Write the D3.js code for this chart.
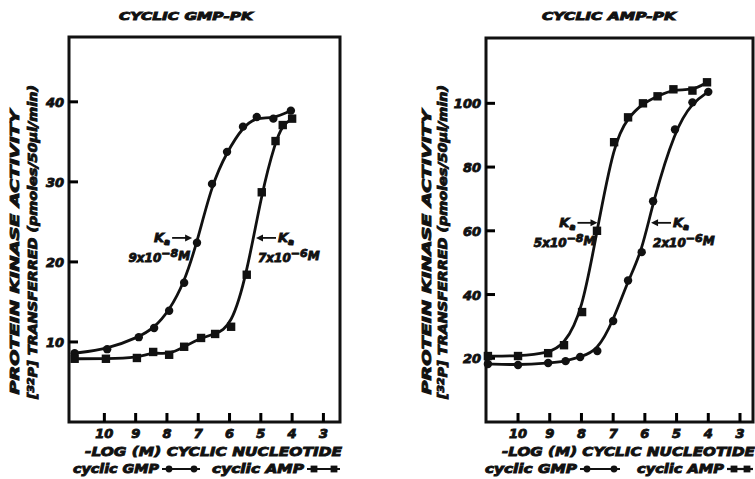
<!DOCTYPE html>
<html>
<head>
<meta charset="utf-8">
<script src="https://cdn.jsdelivr.net/npm/d3@7"></script>
<style>
  body { margin: 0; background: #fff; }
  svg text { font-family: "DejaVu Sans", sans-serif; font-weight: bold; font-style: italic; fill: #111; stroke: #111; stroke-width: 0.9px; }
</style>
</head>
<body>
<svg id="chart" width="755" height="479"></svg>
<script>
// values: x = -log[M] of the cyclic nucleotide, y = activity
const xTicks = [10, 9, 8, 7, 6, 5, 4, 3];
const gpkTicks = [10, 20, 30, 40];
const apkTicks = [20, 40, 60, 80, 100];

// cyclic GMP-PK panel
const gpkGmpX = [10.95, 9.91, 8.9, 8.41, 7.93, 7.45, 7.04, 6.56, 6.08, 5.57, 5.13, 4.6, 4.04];
const gpkGmpY = [8.6, 9.1, 10.6, 11.75, 13.9, 17.4, 22.4, 29.75, 33.75, 36.9, 38.1, 37.9, 38.9];
const gpkAmpX = [10.95, 9.95, 8.96, 8.44, 7.93, 7.45, 6.91, 6.46, 5.95, 5.45, 4.97, 4.53, 4.3, 4.0];
const gpkAmpY = [7.9, 7.9, 8.0, 8.75, 8.4, 9.4, 10.5, 11.0, 11.9, 18.4, 28.7, 35.1, 37.1, 37.9];

// cyclic AMP-PK panel
const apkAmpX = [10.95, 10.0, 9.05, 8.55, 7.98, 7.51, 6.97, 6.53, 6.06, 5.6, 5.1, 4.5, 4.04];
const apkAmpY = [20.7, 20.7, 21.6, 24.1, 34.5, 60.0, 87.8, 95.6, 100, 102.2, 104.4, 104, 106.6];
const apkGmpX = [10.95, 10.0, 9.05, 8.5, 8.04, 7.5, 7.0, 6.53, 6.1, 5.74, 5.05, 4.5, 4.0];
const apkGmpY = [18.2, 17.9, 18.5, 19.1, 20.4, 22.3, 31.7, 44.4, 53.3, 69.3, 91.8, 100.3, 103.6];

const svg = d3.select("#chart");

const panels = [
  {
    title: "CYCLIC GMP-PK", titleX: 186,
    left: 69, right: 340, top: 37, bottom: 422,
    xDomain: [11.13, 2.47], yDomain: [0, 48.1], yTicks: gpkTicks,
    labelX: [13, 32],
    series: [
      { xs: gpkGmpX, ys: gpkGmpY, shape: "circle" },
      { xs: gpkAmpX, ys: gpkAmpY, shape: "square" }
    ],
    ka: [
      { x: 7.1, y: 23, side: "left", exp: "-8", mant: "9x10" },
      { x: 5.25, y: 23, side: "right", exp: "-6", mant: "7x10" }
    ],
    legend: { x: 73, gmpLine: [162, 200], ampText: 212, ampLine: [307, 340] }
  },
  {
    title: "CYCLIC AMP-PK", titleX: 609,
    left: 486, right: 753, top: 38, bottom: 422,
    xDomain: [11.01, 2.59], yDomain: [0, 120.5], yTicks: apkTicks,
    labelX: [425, 442],
    series: [
      { xs: apkAmpX, ys: apkAmpY, shape: "square" },
      { xs: apkGmpX, ys: apkGmpY, shape: "circle" }
    ],
    ka: [
      { x: 7.4, y: 62.5, side: "left", exp: "-8", mant: "5x10" },
      { x: 5.9, y: 62.5, side: "right", exp: "-6", mant: "2x10" }
    ],
    legend: { x: 485, gmpLine: [580, 620], ampText: 637, ampLine: [727, 753] }
  }
];

panels.forEach(drawPanel);

function drawPanel(p) {
  const x = d3.scaleLinear().domain(p.xDomain).range([p.left, p.right]);
  const y = d3.scaleLinear().domain(p.yDomain).range([p.bottom, p.top]);
  const g = svg.append("g");

  // title
  g.append("text").attr("x", p.titleX).attr("y", 20)
    .attr("text-anchor", "middle").style("font-size", "11px")
    .attr("textLength", 134).attr("lengthAdjust", "spacingAndGlyphs")
    .text(p.title);

  // frame
  g.append("rect")
    .attr("x", p.left).attr("y", p.top)
    .attr("width", p.right - p.left).attr("height", p.bottom - p.top)
    .attr("fill", "none").attr("stroke", "#111").attr("stroke-width", 3);

  // y ticks, pointing inward (drawn as small bars)
  g.selectAll("rect.ytick").data(p.yTicks).join("rect").attr("class", "ytick")
    .attr("x", p.left).attr("width", 9)
    .attr("y", d => y(d) - 1.5).attr("height", 3)
    .attr("fill", "#000");
  g.selectAll("text.ylab").data(p.yTicks).join("text").attr("class", "ylab")
    .attr("x", p.left - 5).attr("y", d => y(d) + 5)
    .attr("text-anchor", "end").style("font-size", "13px")
    .text(d => d);

  // x ticks, pointing inward
  g.selectAll("rect.xtick").data(xTicks).join("rect").attr("class", "xtick")
    .attr("x", d => x(d) - 1.5).attr("width", 3)
    .attr("y", p.bottom - 9).attr("height", 9)
    .attr("fill", "#000");
  g.selectAll("text.xlab").data(xTicks).join("text").attr("class", "xlab")
    .attr("x", d => x(d)).attr("y", p.bottom + 16)
    .attr("text-anchor", "middle").style("font-size", "13px")
    .text(d => d);

  // axis titles
  g.append("text").attr("x", (p.left + p.right) / 2 + 9).attr("y", 456)
    .attr("text-anchor", "middle").style("font-size", "13px")
    .attr("textLength", p.right - p.left - 14).attr("lengthAdjust", "spacingAndGlyphs")
    .text("-LOG (M) CYCLIC NUCLEOTIDE");

  g.append("text")
    .attr("transform", `translate(${p.labelX[0] + 6},252) rotate(-90)`)
    .attr("text-anchor", "middle").style("font-size", "13px")
    .attr("textLength", 285).attr("lengthAdjust", "spacingAndGlyphs")
    .text("PROTEIN KINASE ACTIVITY");
  const l2 = g.append("text")
    .attr("transform", `translate(${p.labelX[1] + 5},242) rotate(-90)`)
    .attr("text-anchor", "middle").style("font-size", "12px")
    .attr("textLength", 314).attr("lengthAdjust", "spacingAndGlyphs");
  l2.append("tspan").text("[");
  l2.append("tspan").attr("dy", -3).style("font-size", "9px").text("32");
  l2.append("tspan").attr("dy", 3).text("P] TRANSFERRED (pmoles/50µl/min)");

  // curves and points
  const line = d3.line().x(d => x(d[0])).y(d => y(d[1])).curve(d3.curveBasis);
  p.series.forEach(s => {
    const pts = s.xs.map((v, i) => [v, s.ys[i]]);
    g.append("path").datum(pts).attr("d", line)
      .attr("fill", "none").attr("stroke", "#111").attr("stroke-width", 2.8);
    if (s.shape === "circle") {
      g.selectAll(null).data(pts).join("circle")
        .attr("cx", d => x(d[0])).attr("cy", d => y(d[1])).attr("r", 4.2)
        .attr("fill", "#111");
    } else {
      g.selectAll(null).data(pts).join("rect")
        .attr("x", d => x(d[0]) - 4.2).attr("y", d => y(d[1]) - 4.2)
        .attr("width", 8.4).attr("height", 8.4).attr("fill", "#111");
    }
  });

  // Ka annotations
  p.ka.forEach(k => {
    const px = x(k.x), py = y(k.y);
    const dir = k.side === "left" ? -1 : 1;
    const head = px + dir * 3, tail = px + dir * 23;
    g.append("line").attr("x1", tail).attr("y1", py).attr("x2", head + dir * 4).attr("y2", py)
      .attr("stroke", "#111").attr("stroke-width", 1.8);
    g.append("path")
      .attr("d", `M${head},${py} l${dir * 7},-3.5 l0,7 z`).attr("fill", "#111");
    const kt = g.append("text")
      .attr("x", tail + dir * 2).attr("y", py + 4)
      .attr("text-anchor", k.side === "left" ? "end" : "start")
      .style("font-size", "13px");
    kt.append("tspan").text("K");
    kt.append("tspan").attr("dy", 3).style("font-size", "9px").text("a");
    const nt = g.append("text")
      .attr("x", px + dir * 5).attr("y", py + 24)
      .attr("text-anchor", k.side === "left" ? "end" : "start")
      .style("font-size", "12px");
    nt.append("tspan").text(k.mant);
    nt.append("tspan").attr("dy", -5).style("font-size", "11px").text("\u2212" + k.exp.slice(1));
    nt.append("tspan").attr("dy", 3).text("M");
  });

  // legend
  const L = p.legend, ly = 473;
  g.append("text").attr("x", L.x).attr("y", ly).style("font-size", "12px")
    .attr("textLength", L.gmpLine[0] - L.x - 3).attr("lengthAdjust", "spacingAndGlyphs")
    .text("cyclic GMP");
  g.append("line").attr("x1", L.gmpLine[0]).attr("x2", L.gmpLine[1])
    .attr("y1", ly - 4).attr("y2", ly - 4).attr("stroke", "#111").attr("stroke-width", 2.2);
  g.selectAll(null).data([L.gmpLine[0] + 7, L.gmpLine[1] - 6]).join("circle")
    .attr("cx", d => d).attr("cy", ly - 4).attr("r", 3.4).attr("fill", "#111");
  g.append("text").attr("x", L.ampText).attr("y", ly).style("font-size", "12px")
    .attr("textLength", L.ampLine[0] - L.ampText - 3).attr("lengthAdjust", "spacingAndGlyphs")
    .text("cyclic AMP");
  g.append("line").attr("x1", L.ampLine[0]).attr("x2", L.ampLine[1])
    .attr("y1", ly - 4).attr("y2", ly - 4).attr("stroke", "#111").attr("stroke-width", 2.2);
  g.selectAll(null).data([L.ampLine[0] + 7, L.ampLine[1] - 6]).join("rect")
    .attr("x", d => d - 3.4).attr("y", ly - 7.4).attr("width", 6.8).attr("height", 6.8)
    .attr("fill", "#111");
}
</script>
</body>
</html>
